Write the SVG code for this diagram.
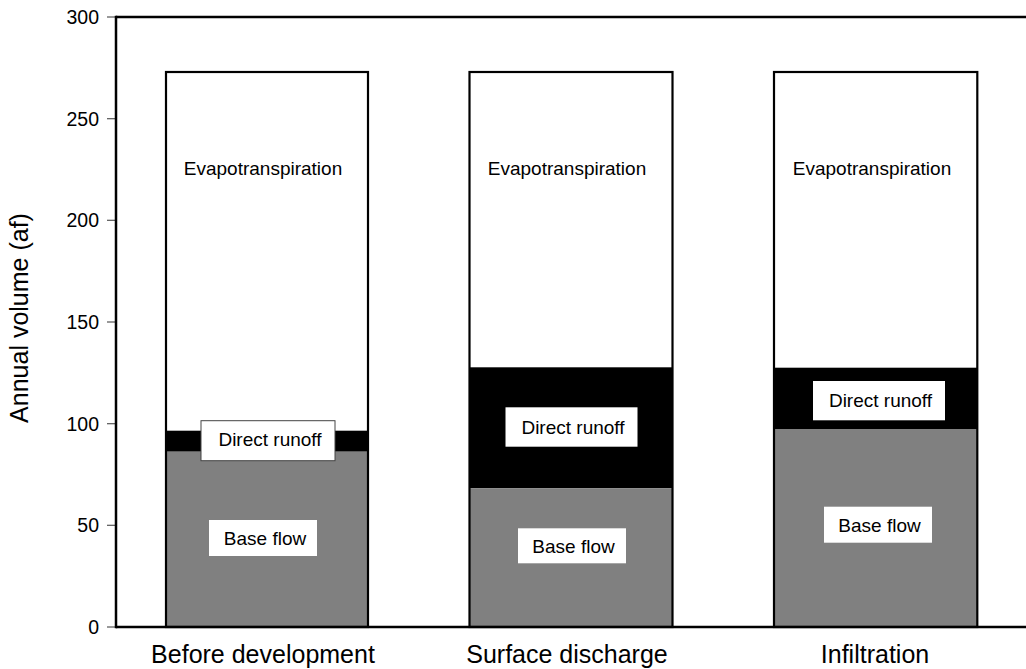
<svg xmlns="http://www.w3.org/2000/svg" width="1026" height="669" viewBox="0 0 1026 669">
  <style>
    text { font-family: "Liberation Sans", Arial, Helvetica, sans-serif; fill: #000; }
    .tick { stroke: #555; stroke-width: 1.2; }
    .axis { stroke: #000; stroke-width: 2.5; fill: none; }
    .ticklbl { font-size: 19.5px; text-anchor: end; }
    .lbl { font-size: 19px; text-anchor: middle; }
    .cat { font-size: 25px; text-anchor: middle; }
    .et { fill: #fff; }
    .dr { fill: #000; }
    .bf { fill: #808080; }
    .outline { fill: none; stroke: #000; stroke-width: 2.2; }
    .box { fill: #fff; }
    .boxb { fill: #fff; stroke: #444; stroke-width: 1; }
  </style>
  <rect x="0" y="0" width="1026" height="669" fill="#fff"/>

  <g id="y-axis">
    <line class="tick" x1="107" y1="17" x2="116" y2="17"/>
    <line class="tick" x1="107" y1="118.7" x2="116" y2="118.7"/>
    <line class="tick" x1="107" y1="220.3" x2="116" y2="220.3"/>
    <line class="tick" x1="107" y1="322" x2="116" y2="322"/>
    <line class="tick" x1="107" y1="423.7" x2="116" y2="423.7"/>
    <line class="tick" x1="107" y1="525.3" x2="116" y2="525.3"/>
    <line class="tick" x1="107" y1="627" x2="116" y2="627"/>
    <text class="ticklbl" x="99" y="23.8">300</text>
    <text class="ticklbl" x="99" y="125.5">250</text>
    <text class="ticklbl" x="99" y="227.1">200</text>
    <text class="ticklbl" x="99" y="328.8">150</text>
    <text class="ticklbl" x="99" y="430.5">100</text>
    <text class="ticklbl" x="99" y="532.1">50</text>
    <text class="ticklbl" x="99" y="633.8">0</text>
    <text class="cat" transform="translate(28,318) rotate(-90)" x="0" y="0">Annual volume (af)</text>
  </g>

  <g id="bar-before">
    <rect class="et" x="166" y="72" width="202" height="358.7"/>
    <rect class="dr" x="166" y="430.7" width="202" height="21"/>
    <rect class="bf" x="166" y="451.7" width="202" height="175.3"/>
    <rect class="outline" x="166" y="72" width="202" height="555"/>
    <text class="lbl" x="263" y="175">Evapotranspiration</text>
    <rect class="boxb" x="201" y="420.7" width="134" height="40"/>
    <text class="lbl" x="270" y="446">Direct runoff</text>
    <rect class="box" x="209" y="520" width="108" height="36"/>
    <text class="lbl" x="265" y="545">Base flow</text>
  </g>

  <g id="bar-surface">
    <rect class="et" x="469.5" y="72" width="203" height="295.3"/>
    <rect class="dr" x="469.5" y="367.3" width="203" height="121"/>
    <rect class="bf" x="469.5" y="488.3" width="203" height="138.7"/>
    <rect class="outline" x="469.5" y="72" width="203" height="555"/>
    <text class="lbl" x="567" y="175">Evapotranspiration</text>
    <rect class="box" x="505.5" y="407.3" width="132" height="39.4"/>
    <text class="lbl" x="573" y="433.8">Direct runoff</text>
    <rect class="box" x="518" y="528.3" width="108" height="35"/>
    <text class="lbl" x="573.5" y="552.8">Base flow</text>
  </g>

  <g id="bar-infiltration">
    <rect class="et" x="774" y="72" width="203.3" height="295.7"/>
    <rect class="dr" x="774" y="367.7" width="203.3" height="61.3"/>
    <rect class="bf" x="774" y="429" width="203.3" height="198"/>
    <rect class="outline" x="774" y="72" width="203.3" height="555"/>
    <text class="lbl" x="872" y="175">Evapotranspiration</text>
    <rect class="box" x="813" y="381" width="132" height="39.3"/>
    <text class="lbl" x="880.5" y="407.3">Direct runoff</text>
    <rect class="box" x="824" y="506.7" width="108" height="36"/>
    <text class="lbl" x="879.5" y="531.8">Base flow</text>
  </g>

  <g id="frame">
    <line class="axis" x1="116" y1="17" x2="1026" y2="17"/>
    <line class="axis" x1="116" y1="627" x2="1026" y2="627"/>
    <line class="axis" x1="116" y1="15.8" x2="116" y2="628.2"/>
  </g>

  <g id="categories">
    <text class="cat" x="263" y="663">Before development</text>
    <text class="cat" x="567" y="663">Surface discharge</text>
    <text class="cat" x="875" y="663">Infiltration</text>
  </g>
</svg>
